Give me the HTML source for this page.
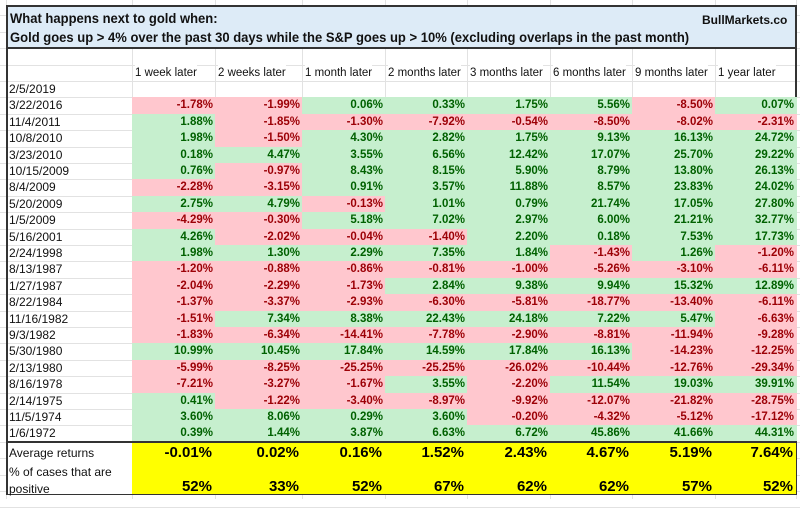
<!DOCTYPE html>
<html><head><meta charset="utf-8">
<style>
body{margin:0;width:800px;height:499px;background:#fff;font-family:"Liberation Sans",Arial,sans-serif;overflow:hidden;position:relative}
.abs{position:absolute;box-sizing:border-box;white-space:nowrap}
.grid{position:absolute;background:#e2e2e2}
</style></head><body>
<div id="root"></div>
<script>
const columns=["1 week later","2 weeks later","1 month later","2 months later","3 months later","6 months later","9 months later","1 year later"];
const r0=["3/22/2016",-1.78,-1.99,0.06,0.33,1.75,5.56,-8.50,0.07];
const r1=["11/4/2011",1.88,-1.85,-1.30,-7.92,-0.54,-8.50,-8.02,-2.31];
const r2=["10/8/2010",1.98,-1.50,4.30,2.82,1.75,9.13,16.13,24.72];
const r3=["3/23/2010",0.18,4.47,3.55,6.56,12.42,17.07,25.70,29.22];
const r4=["10/15/2009",0.76,-0.97,8.43,8.15,5.90,8.79,13.80,26.13];
const r5=["8/4/2009",-2.28,-3.15,0.91,3.57,11.88,8.57,23.83,24.02];
const r6=["5/20/2009",2.75,4.79,-0.13,1.01,0.79,21.74,17.05,27.80];
const r7=["1/5/2009",-4.29,-0.30,5.18,7.02,2.97,6.00,21.21,32.77];
const r8=["5/16/2001",4.26,-2.02,-0.04,-1.40,2.20,0.18,7.53,17.73];
const r9=["2/24/1998",1.98,1.30,2.29,7.35,1.84,-1.43,1.26,-1.20];
const r10=["8/13/1987",-1.20,-0.88,-0.86,-0.81,-1.00,-5.26,-3.10,-6.11];
const r11=["1/27/1987",-2.04,-2.29,-1.73,2.84,9.38,9.94,15.32,12.89];
const r12=["8/22/1984",-1.37,-3.37,-2.93,-6.30,-5.81,-18.77,-13.40,-6.11];
const r13=["11/16/1982",-1.51,7.34,8.38,22.43,24.18,7.22,5.47,-6.63];
const r14=["9/3/1982",-1.83,-6.34,-14.41,-7.78,-2.90,-8.81,-11.94,-9.28];
const r15=["5/30/1980",10.99,10.45,17.84,14.59,17.84,16.13,-14.23,-12.25];
const r16=["2/13/1980",-5.99,-8.25,-25.25,-25.25,-26.02,-10.44,-12.76,-29.34];
const r17=["8/16/1978",-7.21,-3.27,-1.67,3.55,-2.20,11.54,19.03,39.91];
const r18=["2/14/1975",0.41,-1.22,-3.40,-8.97,-9.92,-12.07,-21.82,-28.75];
const r19=["11/5/1974",3.60,8.06,0.29,3.60,-0.20,-4.32,-5.12,-17.12];
const r20=["1/6/1972",0.39,1.44,3.87,6.63,6.72,45.86,41.66,44.31];
const averages=[-0.01,0.02,0.16,1.52,2.43,4.67,5.19,7.64];
const positivePct=[52,33,52,67,62,62,57,52];
const rows=[r0,r1,r2,r3,r4,r5,r6,r7,r8,r9,r10,r11,r12,r13,r14,r15,r16,r17,r18,r19,r20];

const root=document.getElementById('root');
const colX=[6,132,215,302,385,467,550,632,715,796];
const rowTop=81, rowH=16.4;
function div(css,txt){const d=document.createElement('div');d.className='abs';d.style.cssText=css;if(txt!==undefined)d.textContent=txt;root.appendChild(d);return d;}
for(let i=0;i<colX.length;i++){const g=document.createElement('div');g.className='grid';g.style.cssText=`left:${colX[i]}px;top:0;width:1px;height:499px`;root.appendChild(g);}
for(let y=0;y<499;y+=16.4){const g=document.createElement('div');g.className='grid';g.style.cssText=`left:0;top:${Math.round(y+rowTop%16.4)}px;width:800px;height:1px`;root.appendChild(g);}
let h=div(`left:6px;top:5px;width:791px;height:44px;background:#ddebf7;border:2px solid #333;`);

let t1=div(`left:10px;top:10px;font-size:14px;font-weight:bold;color:#111;transform-origin:0 0;transform:scaleX(0.93)`,'What happens next to gold when:');

let t2=div(`left:10px;top:29px;font-size:14px;font-weight:bold;color:#111;transform-origin:0 0;transform:scaleX(0.93)`,'Gold goes up > 4% over the past 30 days while the S&P goes up > 10% (excluding overlaps in the past month)');

let bm=div(`left:702px;top:13px;font-size:12px;font-weight:bold;color:#111`,'BullMarkets.co');

let fr=div(`left:6px;top:48px;width:791px;height:447px;border:2px solid #333;border-top:none;`);

columns.forEach((c,i)=>{const d=div(`left:${colX[i+1]+3}px;top:${rowTop-rowH}px;line-height:${rowH}px;font-size:11.5px;color:#111;background:#fff`,c);
});
let d0=div(`left:9px;top:${rowTop}px;line-height:${rowH}px;font-size:12px;color:#111`,'2/5/2019');

rows.forEach((r,ri)=>{
  const top=rowTop+rowH*(ri+1);
  const dl=div(`left:9px;top:${top}px;line-height:${rowH}px;font-size:12px;color:#111`,r[0]);
  
  for(let c=1;c<=8;c++){
    const v=r[c];const neg=v<0;
    const cell=div(`left:${colX[c]}px;top:${top}px;width:${colX[c+1]-colX[c]+1}px;height:${rowH+0.5}px;background:${neg?'#ffc7ce':'#c6efce'};color:${neg?'#9c0006':'#006100'};font-size:11.5px;font-weight:bold;text-align:right;padding-right:3px;line-height:${rowH}px`,v.toFixed(2)+'%');
    
    
  }
});
const sTop=rowTop+rowH*22;
let sep=div(`left:6px;top:${sTop-1}px;width:791px;height:2px;background:#333`);

let yb=div(`left:132px;top:${sTop+1}px;width:664px;height:${494-sTop-1}px;background:#ffff00`);

let wb=div(`left:8px;top:${sTop+1}px;width:124px;height:${494-sTop-1}px;background:#fff`);
let a=div(`left:9px;top:${sTop+4}px;font-size:12px;color:#111`,'Average returns');

let p1=div(`left:9px;top:${sTop+23}px;font-size:12px;color:#111`,'% of cases that are');

let p2=div(`left:9px;top:${sTop+40}px;font-size:12px;color:#111`,'positive');

averages.forEach((v,i)=>{const d=div(`left:${colX[i+1]}px;top:${sTop+2}px;width:${colX[i+2]-colX[i+1]}px;text-align:right;padding-right:3px;font-size:15px;font-weight:bold;color:#000`,v.toFixed(2)+'%');
});
positivePct.forEach((v,i)=>{const d=div(`left:${colX[i+1]}px;top:${sTop+36}px;width:${colX[i+2]-colX[i+1]}px;text-align:right;padding-right:3px;font-size:15px;font-weight:bold;color:#000`,v+'%');
});
</script>
</body></html>
